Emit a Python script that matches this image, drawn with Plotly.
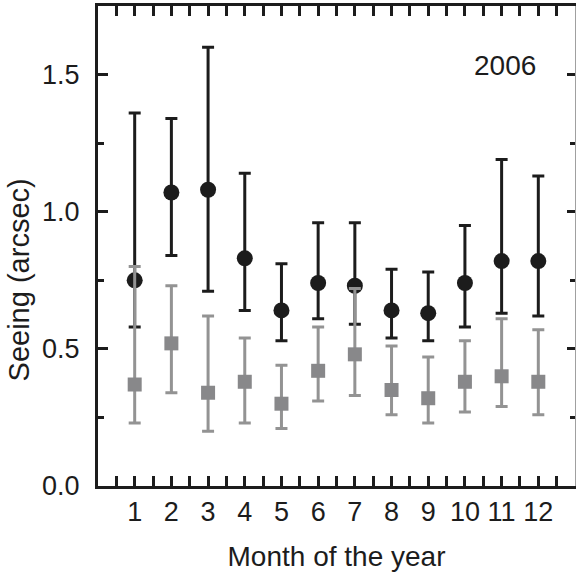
import plotly.graph_objects as go

# Monthly seeing statistics, 2006
months = list(range(1, 13))
month_labels = [str(m) for m in months]

# Series A (black circles): median with upper / lower extent
seeing_a = [0.75, 1.07, 1.08, 0.83, 0.64, 0.74, 0.73, 0.64, 0.63, 0.74, 0.82, 0.82]
upper_a = [1.36, 1.34, 1.60, 1.14, 0.81, 0.96, 0.96, 0.79, 0.78, 0.95, 1.19, 1.13]
lower_a = [0.58, 0.84, 0.71, 0.64, 0.53, 0.61, 0.59, 0.54, 0.53, 0.58, 0.63, 0.62]

# Series B (gray squares)
seeing_b = [0.37, 0.52, 0.34, 0.38, 0.30, 0.42, 0.48, 0.35, 0.32, 0.38, 0.40, 0.38]
upper_b = [0.80, 0.73, 0.62, 0.54, 0.44, 0.58, 0.72, 0.51, 0.47, 0.53, 0.61, 0.57]
lower_b = [0.23, 0.34, 0.20, 0.23, 0.21, 0.31, 0.33, 0.26, 0.23, 0.27, 0.29, 0.26]

y_ticks = [0.0, 0.5, 1.0, 1.5]
y_tick_text = ["0.0", "0.5", "1.0", "1.5"]

BLACK = "#1c1c1c"
GRAY_MARK = "#88888a"
GRAY_BAR = "#939393"
FONT = "Liberation Sans, Arial, sans-serif"


def err(center, hi, lo):
    plus = [h - c for h, c in zip(hi, center)]
    minus = [c - l for c, l in zip(center, lo)]
    return plus, minus


pa, ma = err(seeing_a, upper_a, lower_a)
pb, mb = err(seeing_b, upper_b, lower_b)

fig = go.Figure()

fig.add_trace(go.Scatter(
    x=months, y=seeing_a, mode="markers",
    marker=dict(symbol="circle", size=16, color=BLACK, line=dict(width=0)),
    error_y=dict(type="data", symmetric=False, array=pa, arrayminus=ma,
                 color=BLACK, thickness=3, width=6),
    showlegend=False,
))

fig.add_trace(go.Scatter(
    x=months, y=seeing_b, mode="markers",
    marker=dict(symbol="square", size=14, color=GRAY_MARK, line=dict(width=0)),
    error_y=dict(type="data", symmetric=False, array=pb, arrayminus=mb,
                 color=GRAY_BAR, thickness=3, width=6),
    showlegend=False,
))

# invisible trace that carries the right-hand tick axis
fig.add_trace(go.Scatter(x=[0], y=[0], yaxis="y2", mode="markers",
                         marker=dict(opacity=0), showlegend=False,
                         hoverinfo="skip"))

fig.add_annotation(text="2006", xref="paper", yref="paper",
                   x=0.853, y=0.877, xanchor="center", yanchor="middle",
                   showarrow=False,
                   font=dict(family=FONT, size=28, color=BLACK))

# vertical axis title
fig.add_annotation(text="Seeing (arcsec)", xref="paper", yref="paper",
                   x=-0.166, y=0.43, xanchor="center", yanchor="middle",
                   textangle=-90, showarrow=False,
                   font=dict(family=FONT, size=29, color=BLACK))

fig.update_layout(
    width=576, height=574,
    margin=dict(l=98, r=1, t=6, b=88),
    plot_bgcolor="white", paper_bgcolor="white",
    font=dict(family=FONT, size=27, color=BLACK),
    xaxis=dict(
        range=[0, 13], tickmode="array", tickvals=months, ticktext=month_labels,
        ticks="inside", ticklen=10, tickwidth=3, tickcolor=BLACK,
        minor=dict(tickmode="linear", tick0=0.5, dtick=1, ticks="inside",
                   ticklen=6, tickwidth=3, tickcolor=BLACK),
        showline=True, linewidth=3, linecolor=BLACK, mirror="allticks",
        showgrid=False, zeroline=False,
        tickfont=dict(family=FONT, size=27, color=BLACK),
        title=dict(text="Month of the year",
                   font=dict(family=FONT, size=28, color=BLACK), standoff=20),
    ),
    yaxis=dict(
        range=[0, 1.75], tickmode="array", tickvals=y_ticks, ticktext=y_tick_text,
        ticks="inside", ticklen=10, tickwidth=3, tickcolor=BLACK,
        minor=dict(tickmode="linear", tick0=0.25, dtick=0.5, ticks="inside",
                   ticklen=6, tickwidth=3, tickcolor=BLACK),
        showline=True, linewidth=3, linecolor=BLACK,
        showgrid=False, zeroline=False, ticklabelstandoff=10,
        tickfont=dict(family=FONT, size=27, color=BLACK),
    ),
    yaxis2=dict(
        overlaying="y", side="right", range=[0, 1.75],
        tickmode="array", tickvals=y_ticks, showticklabels=False,
        ticks="inside", ticklen=8, tickwidth=3, tickcolor=BLACK,
        minor=dict(tickmode="linear", tick0=0.25, dtick=0.5, ticks="inside",
                   ticklen=5, tickwidth=3, tickcolor=BLACK),
        showline=True, linewidth=1, linecolor="#a0a0a0",
        showgrid=False, zeroline=False,
    ),
)

fig.write_html("out.html")
